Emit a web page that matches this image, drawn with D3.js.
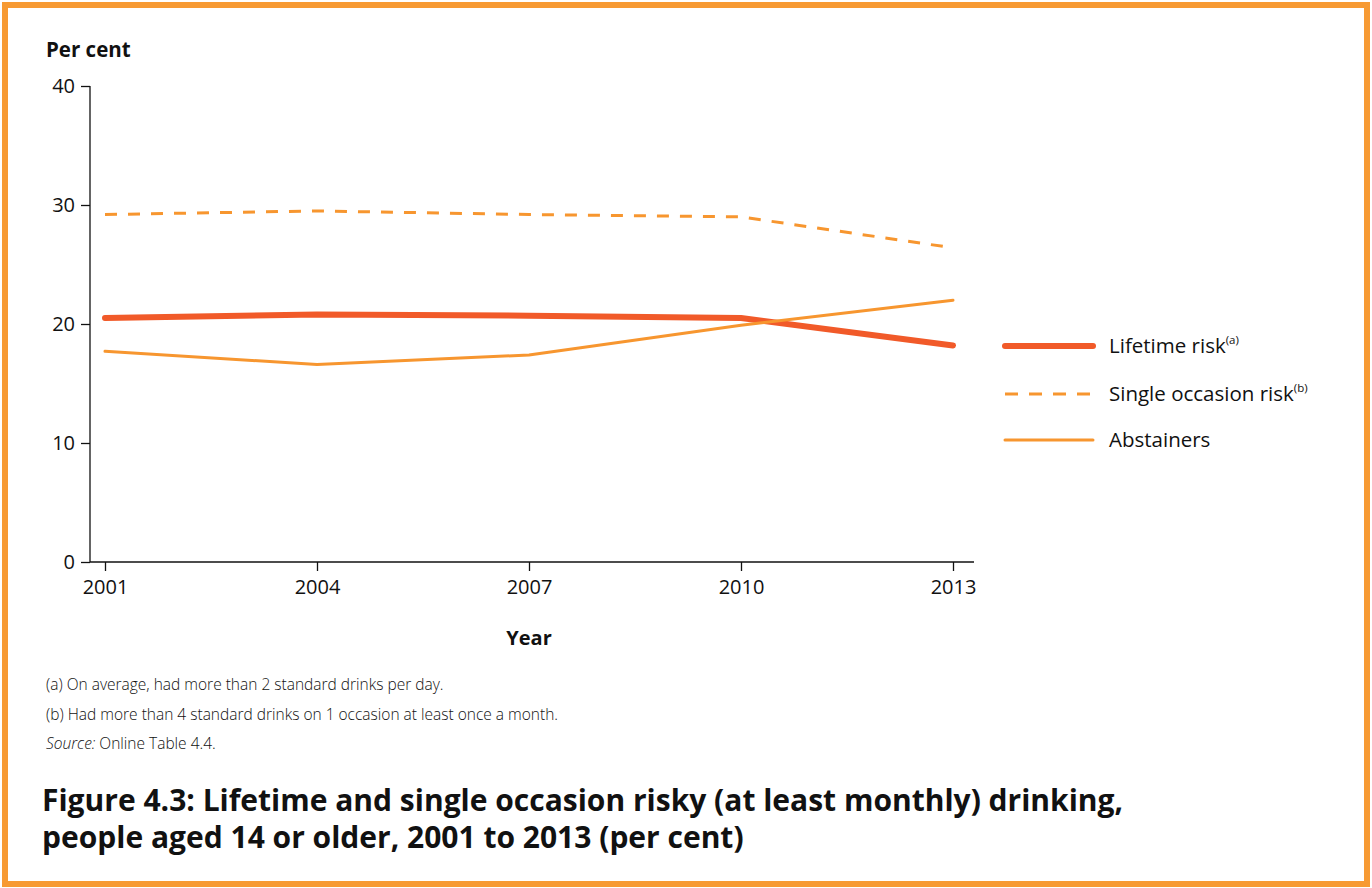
<!DOCTYPE html>
<html><head><meta charset="utf-8">
<script src="https://cdn.jsdelivr.net/npm/d3@7"></script>
<style>
html,body{margin:0;padding:0;background:#fff;}
svg{display:block;}
text{font-family:"Open Sans","Noto Sans",sans-serif;fill:#111;}
</style></head>
<body>
<script>
const years = [2001, 2004, 2007, 2010, 2013];
const lifetimeRisk = [20.5, 20.8, 20.7, 20.5, 18.2];
const singleOccasionRisk = [29.2, 29.5, 29.2, 29.0, 26.4];
const abstainers = [17.7, 16.6, 17.4, 19.9, 22.0];
const yTicks = [0, 10, 20, 30, 40];
const seriesNames = ["Lifetime risk", "Single occasion risk", "Abstainers"];
const seriesSup = ["(a)", "(b)", ""];
const footnotes = ["(a) On average, had more than 2 standard drinks per day.",
                   "(b) Had more than 4 standard drinks on 1 occasion at least once a month."];
const titleLines = ["Figure 4.3: Lifetime and single occasion risky (at least monthly) drinking,",
                    "people aged 14 or older, 2001 to 2013 (per cent)"];

const W = 1372, H = 888;
const svg = d3.select("body").append("svg").attr("width", W).attr("height", H);

// frame
svg.append("rect").attr("x", 5).attr("y", 5).attr("width", W - 10).attr("height", H - 9)
  .attr("fill", "none").attr("stroke", "#F79A33").attr("stroke-width", 6);

const x = d3.scaleLinear().domain([2001, 2013]).range([105, 953]);
const y = d3.scaleLinear().domain([0, 40]).range([562, 86]);
const axisLeftX = 90, axisRightX = 974;

// y axis
const gy = svg.append("g").attr("transform", `translate(${axisLeftX},0)`)
  .call(d3.axisLeft(y).tickValues(yTicks).tickSize(9).tickSizeOuter(0).tickPadding(6));
gy.select(".domain").remove();
gy.append("line").attr("x1", 0).attr("x2", 0).attr("y1", y(40)).attr("y2", y(0))
  .attr("stroke", "#111").attr("stroke-width", 1.3);
gy.selectAll(".tick line").attr("stroke", "#111").attr("stroke-width", 1.3);
gy.selectAll(".tick text").attr("font-size", 20).attr("fill", "#111")
  .style("font-family", '"Open Sans",sans-serif');

// x axis
const gx = svg.append("g").attr("transform", `translate(0,${y(0)})`)
  .call(d3.axisBottom(x).tickValues(years).tickFormat(d3.format("d")).tickSize(9).tickSizeOuter(0).tickPadding(9));
gx.select(".domain").remove();
gx.append("line").attr("x1", axisLeftX).attr("x2", axisRightX).attr("y1", 0).attr("y2", 0)
  .attr("stroke", "#111").attr("stroke-width", 1.3);
gx.selectAll(".tick line").attr("stroke", "#111").attr("stroke-width", 1.3);
gx.selectAll(".tick text").attr("font-size", 20).attr("fill", "#111")
  .style("font-family", '"Open Sans",sans-serif');

// axis titles
svg.append("text").attr("x", 46).attr("y", 57).attr("font-size", 20.5).attr("font-weight", 700).text("Per cent");
svg.append("text").attr("x", (x(2001) + x(2013)) / 2).attr("y", 645).attr("text-anchor", "middle")
  .attr("font-size", 20).attr("font-weight", 700).text("Year");

// series
const series = [
  {name: seriesNames[0], sup: seriesSup[0], values: lifetimeRisk, color: "#F15A29", width: 6, dash: null},
  {name: seriesNames[1], sup: seriesSup[1], values: singleOccasionRisk, color: "#F7962F", width: 3, dash: "12,11"},
  {name: seriesNames[2], sup: seriesSup[2], values: abstainers, color: "#F7962F", width: 3, dash: null}
];
const line = d3.line().x((d, i) => x(years[i])).y(d => y(d));
series.forEach(s => {
  svg.append("path").datum(s.values).attr("d", line)
    .attr("fill", "none").attr("stroke", s.color).attr("stroke-width", s.width)
    .attr("stroke-linecap", s.dash ? "butt" : "round").attr("stroke-linejoin", "round")
    .attr("stroke-dasharray", s.dash);
});

// legend
const legY = [346, 394, 440];
series.forEach((s, i) => {
  svg.append("line").attr("x1", 1005).attr("x2", 1093).attr("y1", legY[i]).attr("y2", legY[i])
    .attr("stroke", s.color).attr("stroke-width", s.width)
    .attr("stroke-linecap", s.dash ? "butt" : "round")
    .attr("stroke-dasharray", s.dash ? "13,11" : null);
  const t = svg.append("text").attr("x", 1109).attr("y", legY[i] + 7).attr("font-size", 20.5);
  t.append("tspan").text(s.name);
  if (s.sup) t.append("tspan").attr("font-size", 11.5).attr("dy", -9).text(s.sup);
});

// footnotes
const fy = [690, 720, 749];
footnotes.forEach((f, i) => {
  svg.append("text").attr("x", 46).attr("y", fy[i]).attr("font-size", 15.5).attr("font-weight", 300)
    .attr("fill", "#222").text(f);
});
const src = svg.append("text").attr("x", 46).attr("y", fy[2]).attr("font-size", 15.5).attr("font-weight", 300).attr("fill", "#222");
src.append("tspan").attr("font-style", "italic").text("Source:");
src.append("tspan").text(" Online Table 4.4.");

// title
titleLines.forEach((l, i) => {
  svg.append("text").attr("x", 42).attr("y", 811 + i * 37).attr("font-size", 30).attr("font-weight", 700)
    .attr("fill", "#1a1a1a").text(l);
});
</script>
</body></html>
